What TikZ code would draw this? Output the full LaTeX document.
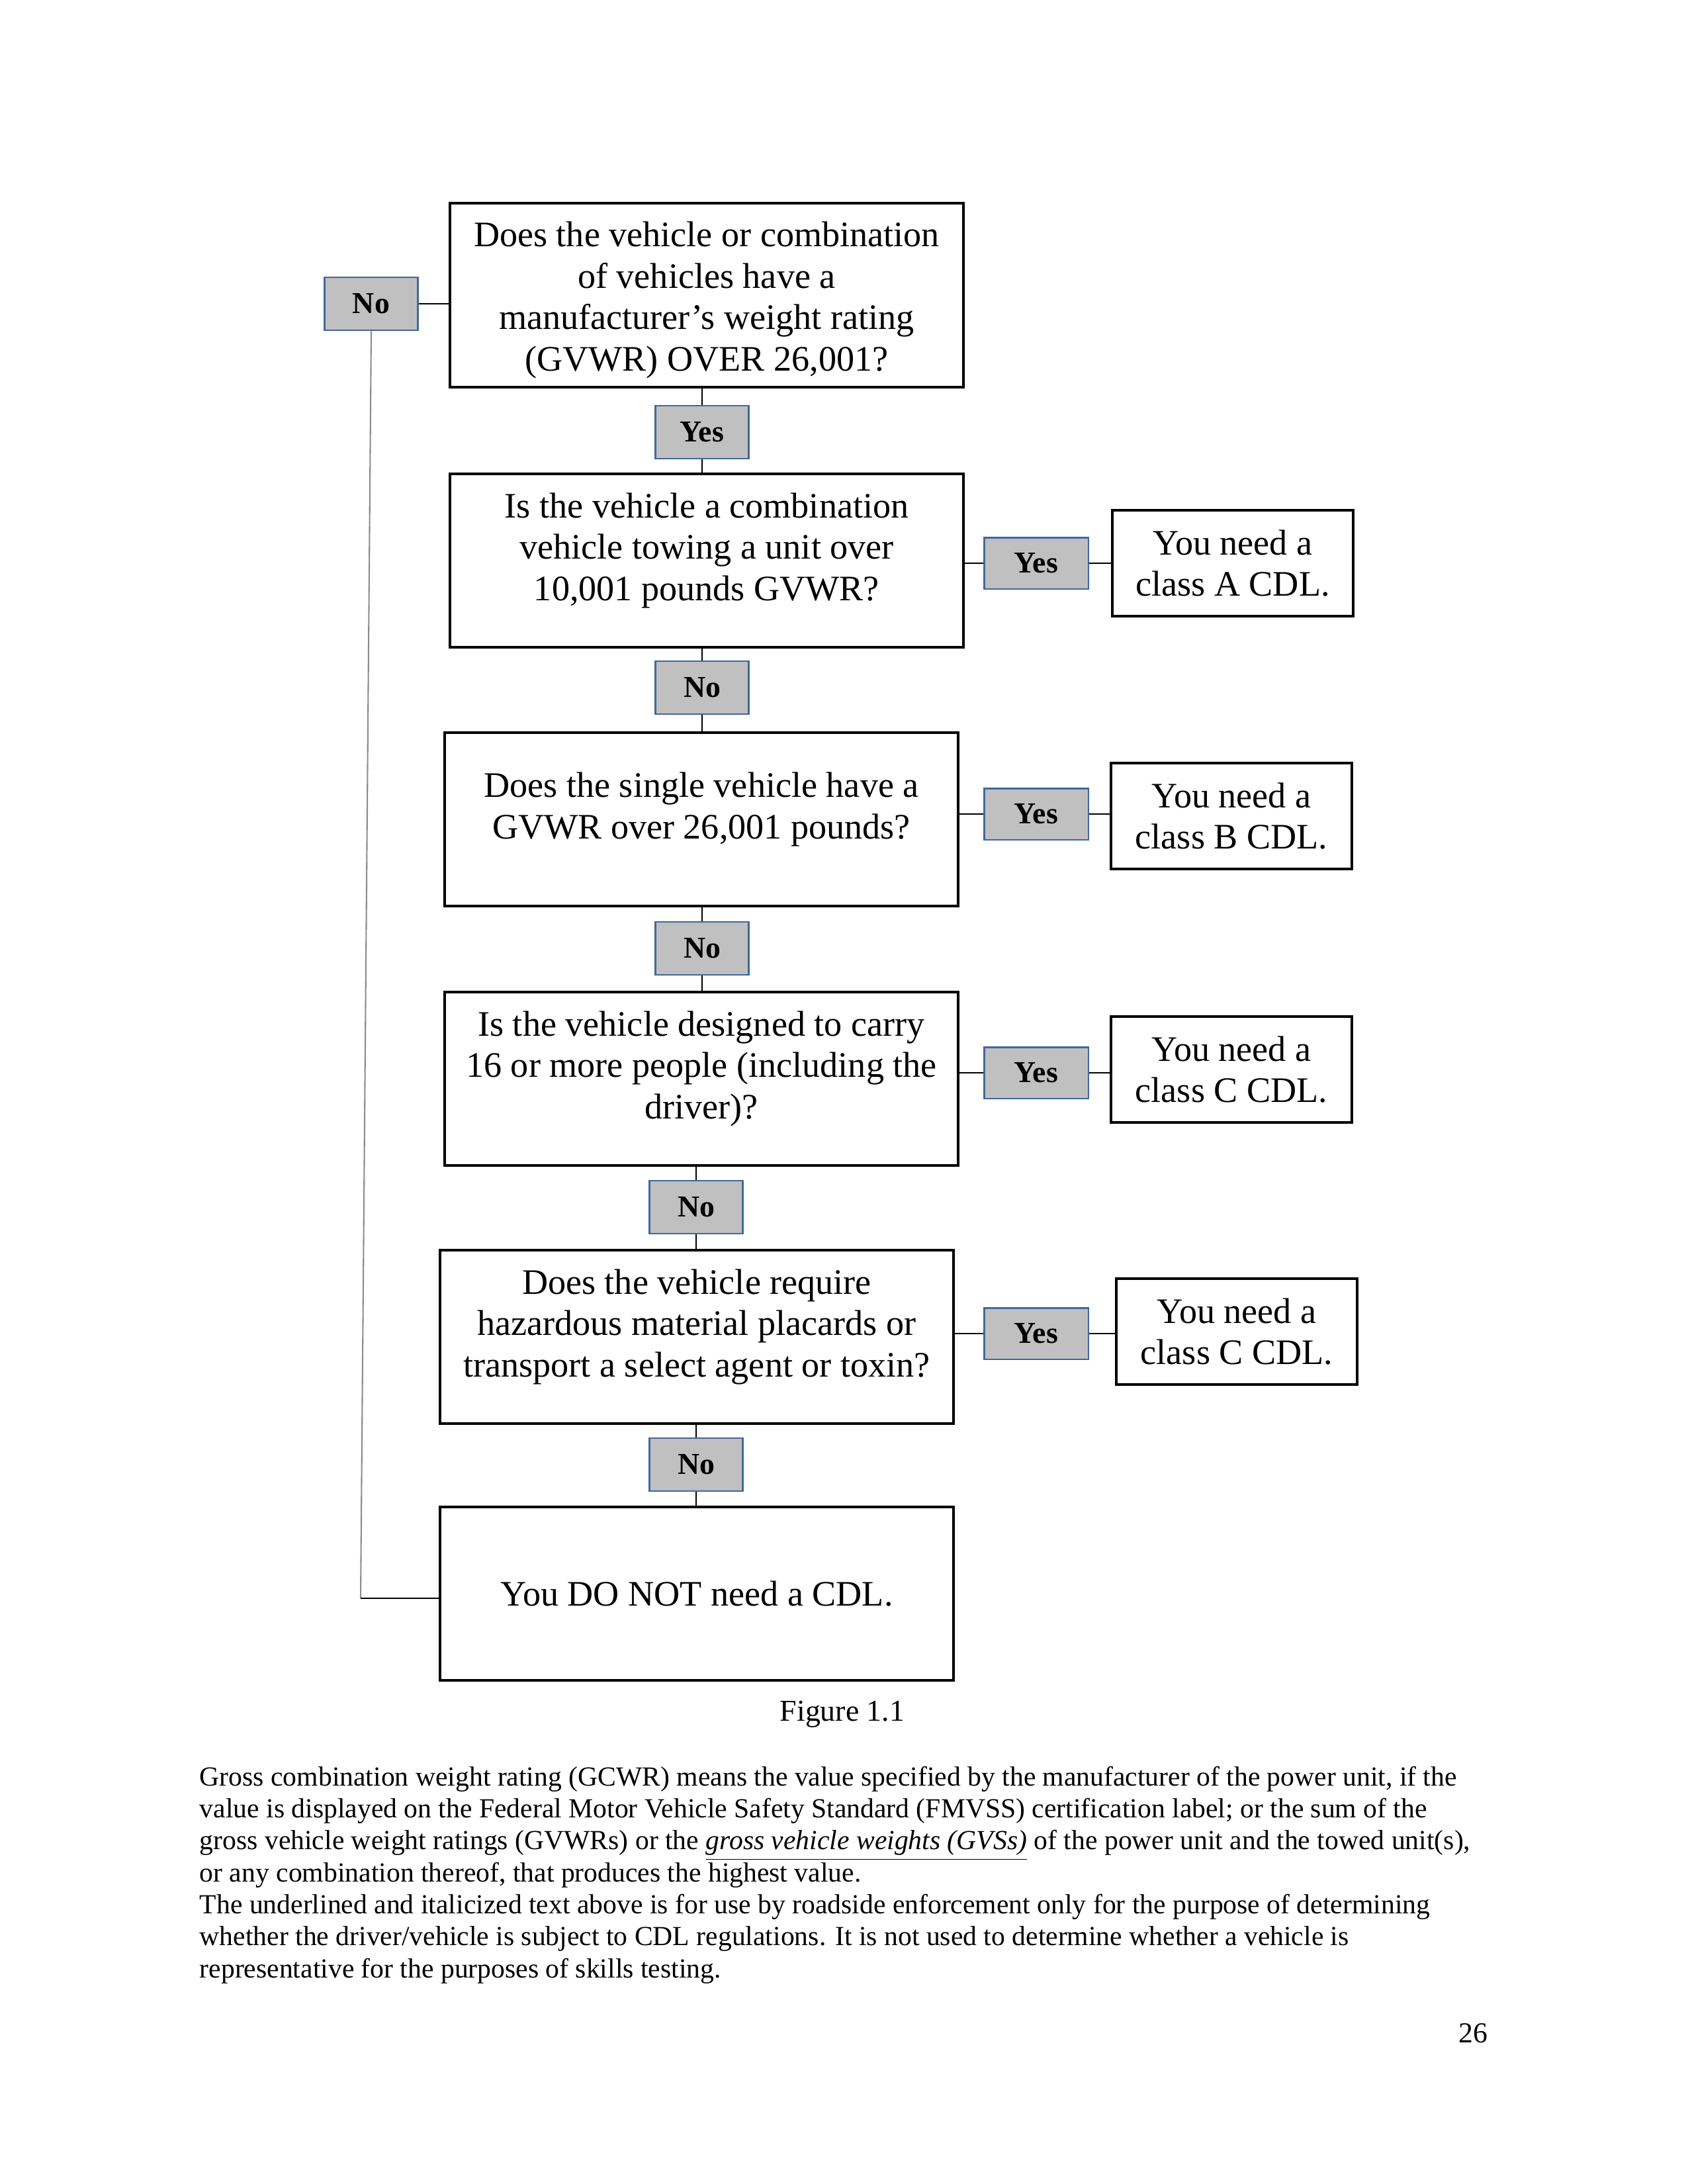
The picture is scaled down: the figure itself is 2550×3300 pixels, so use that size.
\documentclass[tikz,border=0pt]{standalone}
\usepackage{fontspec}
\setmainfont{Liberation Serif}
\usepackage{tikz}
\usetikzlibrary{positioning,calc}
\usepackage{xcolor}
\definecolor{LblBlue}{HTML}{41689C}
\definecolor{LblGray}{HTML}{C0C0C0}
\definecolor{LineGray}{HTML}{8C8C8C}

\begin{document}
\begin{tikzpicture}[x=0.24pt, y=-0.24pt,
    every node/.style={align=center},
    qbox/.style={draw,line width=0.9pt,minimum width=186.2pt,minimum height=62.9pt,inner sep=2pt,font=\fontsize{13}{15}\selectfont},
    lift/.style={execute at end node={\rule[-#1]{0pt}{0pt}}},
    rbox/.style={draw,line width=0.9pt,minimum width=87.4pt,minimum height=38.4pt,inner sep=2pt,font=\fontsize{13}{15}\selectfont},
    lbl/.style={draw=LblBlue,line width=0.7pt,fill=LblGray,minimum width=33.8pt,minimum height=19.2pt,inner sep=1pt,font=\fontsize{11}{13}\selectfont\bfseries},
    ylbl/.style={lbl,minimum width=37.9pt,minimum height=18.7pt},
    link/.style={line width=0.5pt}]
  \useasboundingbox (0,0) rectangle (2550,3300);

  % questions down the middle
  \node[qbox,minimum height=66.7pt] (q1) at (1068,446) {\rule{0pt}{12.5pt}Does the vehicle or combination\\of vehicles have a\\manufacturer’s weight rating\\(GVWR) OVER 26,001?};
  \node[qbox,lift=10pt] (q2) at (1068,847) {Is the vehicle a combination\\vehicle towing a unit over\\10,001 pounds GVWR?};
  \node[qbox,lift=10pt] (q3) at (1060,1238) {Does the single vehicle have a\\GVWR over 26,001 pounds?};
  \node[qbox,lift=10pt] (q4) at (1060,1630) {Is the vehicle designed to carry\\16 or more people (including the\\driver)?};
  \node[qbox,lift=10pt] (q5) at (1053,2020) {Does the vehicle require\\hazardous material placards or\\transport a select agent or toxin?};
  \node[qbox] (q6) at (1053,2408) {You DO NOT need a CDL.};

  % answers between the questions
  \node[lbl] (n1) at (561,459) {No};
  \node[lbl] (y1) at (1061,653) {Yes};
  \node[lbl] (n2) at (1061,1039) {No};
  \node[lbl] (n3) at (1061,1433) {No};
  \node[lbl] (n4) at (1052,1824) {No};
  \node[lbl] (n5) at (1052,2213) {No};

  % yes branches and results
  \node[ylbl] (ya) at (1566,851) {Yes};
  \node[ylbl] (yb) at (1566,1230) {Yes};
  \node[ylbl] (yc) at (1566,1621) {Yes};
  \node[ylbl] (yd) at (1566,2015) {Yes};
  \node[rbox] (ra) at (1863,851) {You need a\\class A CDL.};
  \node[rbox] (rb) at (1861,1233) {You need a\\class B CDL.};
  \node[rbox] (rc) at (1861,1616) {You need a\\class C CDL.};
  \node[rbox] (rd) at (1869,2012) {You need a\\class C CDL.};

  \foreach \t/\l/\b in {q1/y1/q2,q2/n2/q3,q3/n3/q4,q4/n4/q5,q5/n5/q6}{
    \draw[link] (\l.north) -- (\l.north |- \t.south);
    \draw[link] (\l.south) -- (\l.south |- \b.north);}
  \foreach \q/\y/\r in {q2/ya/ra,q3/yb/rb,q4/yc/rc,q5/yd/rd}{
    \draw[link] (\q.east |- \y.west) -- (\y.west);
    \draw[link] (\y.east) -- (\y.east -| \r.west);}

  % the long no branch
  \coordinate (bend) at (545,2415);
  \draw[link] (n1.east) -- (n1.east -| q1.west);
  \draw[link,LineGray] (n1.south) -- (bend);
  \draw[link] (bend) -- (bend -| q6.west);

  \node[font=\fontsize{11}{13}\selectfont] (fig) at (1273,2590) {Figure 1.1};
  \node[anchor=north west,inner sep=0pt,align=left,font=\fontsize{10}{11.6}\selectfont] (note) at (301,2668)
    {Gross combination weight rating (GCWR) means the value specified by the manufacturer of the power unit, if the\\
     value is displayed on the Federal Motor Vehicle Safety Standard (FMVSS) certification label; or the sum of the\\
     gross vehicle weight ratings (GVWRs) or the \underline{\textit{gross vehicle weights (GVSs)}} of the power unit and the towed unit(s),\\
     or any combination thereof, that produces the highest value.\\
     The underlined and italicized text above is for use by roadside enforcement only for the purpose of determining\\
     whether the driver/vehicle is subject to CDL regulations. It is not used to determine whether a vehicle is\\
     representative for the purposes of skills testing.};
  \node[font=\fontsize{10.5}{12}\selectfont] (page) at (2226,3072) {26};
\end{tikzpicture}
\end{document}
